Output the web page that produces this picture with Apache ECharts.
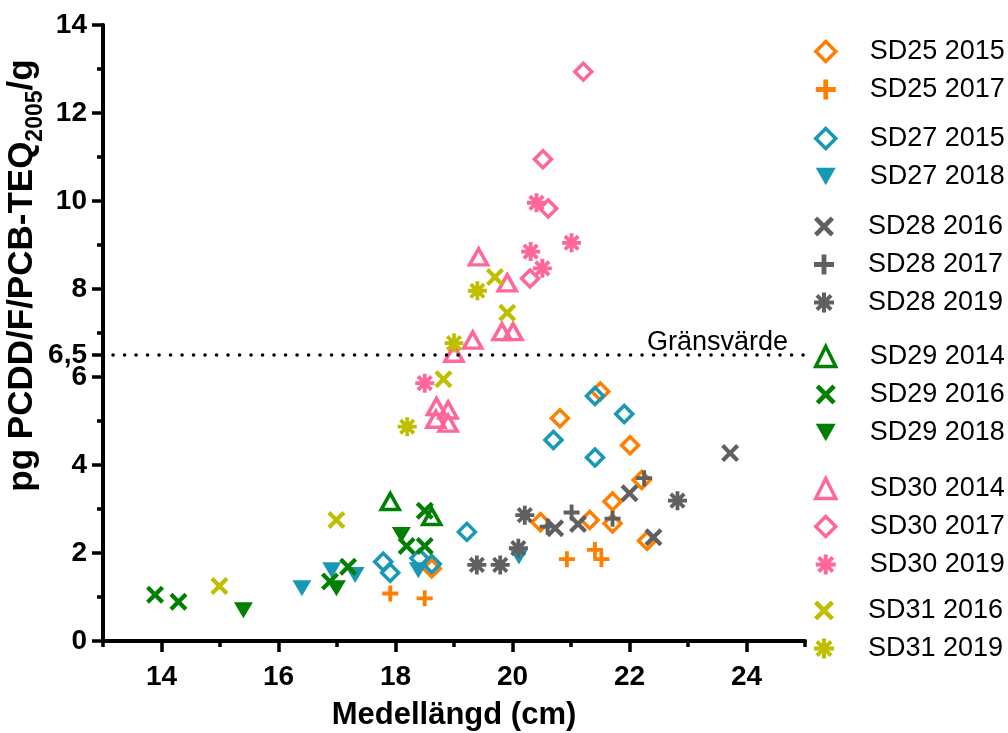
<!DOCTYPE html>
<html>
<head>
<meta charset="utf-8">
<script src="https://cdn.jsdelivr.net/npm/echarts@6/dist/echarts.min.js"></script>
<style>
  html, body { margin: 0; padding: 0; background: #fff; }
  #chart { width: 1008px; height: 733px; }
</style>
</head>
<body>
<div id="chart"></div>
<script>
// values: [length cm, pg TEQ/g]
var sd25_2015 = [[21.50, 5.67], [20.81, 5.06], [22.01, 4.45], [22.21, 3.66], [21.71, 3.17],
                 [21.32, 2.75], [20.48, 2.70], [21.71, 2.67], [22.30, 2.28], [18.62, 1.65]];
var sd25_2017 = [[17.91, 1.08], [18.50, 0.97], [20.93, 1.86], [21.41, 2.07], [21.52, 1.86]];
var sd27_2015 = [[21.41, 5.57], [20.70, 4.57], [21.41, 4.17], [21.91, 5.16], [19.22, 2.48],
                 [17.79, 1.80], [17.91, 1.55], [18.41, 1.88], [18.62, 1.75]];
var sd27_2018 = [[16.40, 1.20], [16.91, 1.61], [17.31, 1.50], [18.39, 1.61], [20.11, 1.92]];
var sd28_2016 = [[20.73, 2.56], [21.12, 2.66], [22.00, 3.36], [22.41, 2.36], [23.72, 4.27]];
var sd28_2017 = [[21.01, 2.92], [22.25, 3.70], [21.71, 2.78], [20.60, 2.60]];
var sd28_2019 = [[19.39, 1.73], [19.79, 1.73], [20.21, 2.86], [20.10, 2.11], [22.82, 3.19]];
var sd29_2014 = [[17.91, 3.17], [18.62, 2.83]];
var sd29_2016 = [[13.89, 1.05], [14.29, 0.89], [16.88, 1.35], [17.19, 1.69], [18.19, 2.16],
                 [18.50, 2.16], [18.50, 2.96]];
var sd29_2018 = [[15.40, 0.70], [16.99, 1.20], [18.10, 2.41]];
var sd30_2014 = [[19.42, 8.73], [19.91, 8.14], [19.82, 7.03], [20.01, 7.03], [19.32, 6.84],
                 [19.00, 6.54], [18.70, 5.33], [18.90, 5.25], [18.69, 5.04], [18.90, 4.95]];
var sd30_2017 = [[21.21, 12.94], [20.52, 10.95], [20.61, 9.83], [20.30, 8.24]];
var sd30_2019 = [[20.41, 9.96], [21.01, 9.05], [20.31, 8.85], [20.51, 8.47], [18.50, 5.86]];
var sd31_2016 = [[19.70, 8.27], [19.91, 7.46], [18.82, 5.95], [16.99, 2.75], [14.99, 1.25]];
var sd31_2019 = [[19.40, 7.96], [19.00, 6.77], [18.20, 4.87]];

var xMajor = [14, 16, 18, 20, 22, 24];
var yMajor = [0, 2, 4, 6, 6.5, 8, 10, 12, 14];
var limitValue = 6.5;

var ORANGE = '#ff7f00', TEAL = '#1799b5', GRAY = '#606060',
    GREEN = '#008000', PINK = '#ff6699', OLIVE = '#bfbf00';
var FONT = '"Liberation Sans", Arial, sans-serif';

var PLUS = 'path://M3.8,0H6.2V3.8H10V6.2H6.2V10H3.8V6.2H0V3.8H3.8Z';
var CROSS = 'path://M7.83,0.76L9.24,2.17L6.41,5L9.24,7.83L7.83,9.24L5,6.41L2.17,9.24L0.76,7.83L3.59,5L0.76,2.17L2.17,0.76L5,3.59Z';
var STAR = 'path://M4,0H6V4H10V6H6V10H4V6H0V4H4Z' +
  'M7.83,0.76L9.24,2.17L6.41,5L9.24,7.83L7.83,9.24L5,6.41L2.17,9.24L0.76,7.83L3.59,5L0.76,2.17L2.17,0.76L5,3.59Z';
var DOWN = 'path://M0,0H10L5,8.7Z';

var groups = [
  [{ name: 'SD25 2015', data: sd25_2015, color: ORANGE, mark: 'diamond' },
   { name: 'SD25 2017', data: sd25_2017, color: ORANGE, mark: 'plus' }],
  [{ name: 'SD27 2015', data: sd27_2015, color: TEAL, mark: 'diamond' },
   { name: 'SD27 2018', data: sd27_2018, color: TEAL, mark: 'down' }],
  [{ name: 'SD28 2016', data: sd28_2016, color: GRAY, mark: 'cross' },
   { name: 'SD28 2017', data: sd28_2017, color: GRAY, mark: 'plus' },
   { name: 'SD28 2019', data: sd28_2019, color: GRAY, mark: 'star' }],
  [{ name: 'SD29 2014', data: sd29_2014, color: GREEN, mark: 'triangle' },
   { name: 'SD29 2016', data: sd29_2016, color: GREEN, mark: 'cross' },
   { name: 'SD29 2018', data: sd29_2018, color: GREEN, mark: 'down' }],
  [{ name: 'SD30 2014', data: sd30_2014, color: PINK, mark: 'triangle' },
   { name: 'SD30 2017', data: sd30_2017, color: PINK, mark: 'diamond' },
   { name: 'SD30 2019', data: sd30_2019, color: PINK, mark: 'star' }],
  [{ name: 'SD31 2016', data: sd31_2016, color: OLIVE, mark: 'cross' },
   { name: 'SD31 2019', data: sd31_2019, color: OLIVE, mark: 'star' }]
];
var legendTops = [38, 125, 213, 343, 475, 597];

function isOutline(g) { return g.mark === 'diamond' || g.mark === 'triangle'; }

function makeSeries(g) {
  var s = {
    name: g.name, type: 'scatter', data: g.data,
    xAxisIndex: 0, yAxisIndex: 0,
    itemStyle: { color: g.color, opacity: 1 }
  };
  if (isOutline(g)) {
    s.itemStyle = { color: 'rgba(255,255,255,0)', borderColor: g.color, borderWidth: 3.5, opacity: 1 };
  }
  if (g.mark === 'diamond') {
    s.symbol = 'diamond'; s.symbolSize = [17, 17];
  } else if (g.mark === 'triangle') {
    s.symbol = 'triangle'; s.symbolSize = [18, 16];
  } else if (g.mark === 'down') {
    s.symbol = DOWN; s.symbolSize = [19, 16];
  } else if (g.mark === 'plus') {
    s.symbol = PLUS; s.symbolSize = 16;
  } else if (g.mark === 'cross') {
    s.symbol = CROSS; s.symbolSize = 18;
  } else {
    s.symbol = STAR; s.symbolSize = 19;
  }
  return s;
}

var series = [];
var legends = [];
groups.forEach(function (grp, i) {
  grp.forEach(function (g) { series.push(makeSeries(g)); });
  legends.push({
    orient: 'vertical', left: 814, top: legendTops[i], padding: 0,
    itemGap: 11, itemWidth: 20, itemHeight: 20,
    data: grp.map(function (g) {
      return isOutline(g)
        ? { name: g.name, itemStyle: { borderWidth: 3.5, borderColor: g.color } }
        : { name: g.name };
    }),
    selectedMode: false,
    textStyle: { fontFamily: FONT, fontSize: 27, lineHeight: 27, color: '#000', padding: [0, 0, 0, 29] }
  });
});

series[0].markLine = {
  silent: true, symbol: ['none', 'none'], animation: false,
  data: [{ yAxis: limitValue }],
  lineStyle: { color: '#000', width: 3.5, type: [0.1, 11.4], cap: 'round', dashOffset: 1.5 },
  label: {
    position: 'insideEndTop', formatter: 'Gränsvärde', distance: [17, -1],
    fontFamily: FONT, fontSize: 27, color: '#000'
  }
};

var myChart = echarts.init(document.getElementById('chart'));
var option = {
  animation: false,
  legend: legends,
  grid: { left: 103, right: 203, top: 25, bottom: 92, containLabel: false, outerBoundsMode: 'none' },
  xAxis: [{
    type: 'value', min: 13, max: 25, interval: 1,
    axisLine: { lineStyle: { color: '#000', width: 4 } },
    axisTick: { length: 6, lineStyle: { color: '#000', width: 3.5 } },
    axisLabel: { show: false }, splitLine: { show: false }
  }, {
    type: 'value', min: 13, max: 25, position: 'bottom',
    axisLine: { show: false },
    axisTick: { length: 11, customValues: xMajor, lineStyle: { color: '#000', width: 3.5 } },
    axisLabel: { customValues: xMajor, margin: 22, fontFamily: FONT, fontSize: 28, fontWeight: 'bold', color: '#000' },
    splitLine: { show: false },
    name: 'Medellängd (cm)', nameLocation: 'middle', nameGap: 59, nameMoveOverlap: false,
    nameTextStyle: { fontFamily: FONT, fontSize: 31, fontWeight: 'bold', color: '#000' }
  }],
  yAxis: [{
    type: 'value', min: 0, max: 14, interval: 1,
    axisLine: { show: true, lineStyle: { color: '#000', width: 4 } },
    axisTick: { show: true, length: 6, lineStyle: { color: '#000', width: 3.5 } },
    axisLabel: { show: false }, splitLine: { show: false }
  }, {
    type: 'value', min: 0, max: 14, position: 'left',
    axisLine: { show: false },
    axisTick: { show: true, length: 11, customValues: yMajor, lineStyle: { color: '#000', width: 3.5 } },
    axisLabel: {
      customValues: yMajor, margin: 16, fontFamily: FONT, fontSize: 28, fontWeight: 'bold', color: '#000',
      formatter: function (v) { return String(v).replace('.', ','); }
    },
    splitLine: { show: false },
    name: 'pg PCDD/F/PCB-TEQ{sub|2005}/g', nameLocation: 'middle', nameGap: 56, nameMoveOverlap: false,
    nameTextStyle: {
      fontFamily: FONT, fontSize: 35, fontWeight: 'bold', color: '#000', padding: [0, 0, 0, 115],
      rich: { sub: { fontFamily: FONT, fontSize: 23, fontWeight: 'bold', color: '#000', padding: [26, 0, 0, 0] } }
    }
  }],
  series: series
};
myChart.setOption(option);
</script>
</body>
</html>
